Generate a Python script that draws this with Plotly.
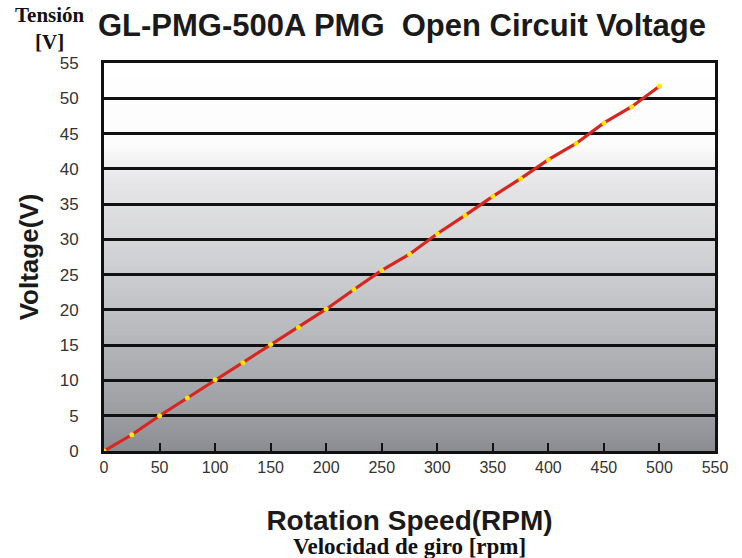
import base64
import struct
import zlib

import plotly.graph_objects as go

# ---------------- data ----------------
rpm = [0, 25, 50, 75, 100, 125, 150, 175, 200, 225, 250, 275, 300, 325, 350,
       375, 400, 425, 450, 475, 500]
voltage = [0, 2.3, 5.0, 7.5, 10.1, 12.5, 15.1, 17.5, 20.1, 22.9, 25.6, 27.9,
           30.8, 33.4, 36.1, 38.6, 41.3, 43.6, 46.5, 48.8, 51.7]
x_ticks = [0, 50, 100, 150, 200, 250, 300, 350, 400, 450, 500, 550]
y_ticks = [0, 5, 10, 15, 20, 25, 30, 35, 40, 45, 50, 55]

title_text = "GL-PMG-500A PMG  Open Circuit Voltage"
y_title = "Voltage(V)"
x_title = "Rotation Speed(RPM)"
x_subtitle = "Velocidad de giro [rpm]"
y_subtitle = "Tensión<br>[V]"

# ---------------- background gradient (style) ----------------
stops = [(0.0, (140, 141, 146)), (0.06, (152, 153, 158)), (0.42, (200, 201, 204)),
         (0.69, (230, 230, 232)), (0.79, (252, 252, 252)), (1.0, (255, 255, 255))]


def color_at(f):
    for (f0, c0), (f1, c1) in zip(stops[:-1], stops[1:]):
        if f0 <= f <= f1:
            t = (f - f0) / (f1 - f0) if f1 > f0 else 0
            return tuple(int(round(a + (b - a) * t)) for a, b in zip(c0, c1))
    return stops[-1][1]


H = 256
rows = b""
for i in range(H):
    f = 1 - i / (H - 1)
    r, g, b = color_at(f)
    rows += b"\x00" + bytes([r, g, b])


def chunk(tag, data):
    c = struct.pack(">I", len(data)) + tag + data
    return c + struct.pack(">I", zlib.crc32(tag + data) & 0xffffffff)


png = b"\x89PNG\r\n\x1a\n" + chunk(b"IHDR", struct.pack(">IIBBBBB", 1, H, 8, 2, 0, 0, 0)) \
    + chunk(b"IDAT", zlib.compress(rows)) + chunk(b"IEND", b"")
bg_uri = "data:image/png;base64," + base64.b64encode(png).decode()

sans = "Liberation Sans, Arial, sans-serif"
serif = "Liberation Serif, Times New Roman, DejaVu Serif, serif"

fig = go.Figure()
fig.add_trace(go.Scatter(
    x=rpm, y=voltage, mode="lines+markers",
    line=dict(color="#d8261e", width=3.2),
    marker=dict(color="#ffe600", size=5, line=dict(width=0)),
    showlegend=False, hoverinfo="x+y",
))

fig.add_layout_image(dict(
    source=bg_uri, xref="x domain", yref="y domain", x=0, y=1,
    sizex=1, sizey=1, sizing="stretch", layer="below", xanchor="left", yanchor="top",
))

fig.update_layout(
    width=742, height=558,
    margin=dict(l=104, r=27, t=63, b=107),
    paper_bgcolor="white", plot_bgcolor="rgba(0,0,0,0)",
    title=dict(text=title_text, xref="container", yref="container",
               x=98 / 742, xanchor="left", y=1 - 25 / 558, yanchor="middle",
               font=dict(family=sans, size=31, color="#1a1a1a", weight="bold")),
    xaxis=dict(range=[0, 550], tickvals=x_ticks, ticktext=[str(v) for v in x_ticks],
               automargin=False,
               showgrid=False, zeroline=False, showline=True, mirror=True,
               linecolor="#111", linewidth=3, ticks="inside", ticklen=8, tickwidth=2,
               tickcolor="#111", tickfont=dict(family=sans, size=16, color="#333"),
               title=dict(text=x_title, standoff=36,
                          font=dict(family=sans, size=28, color="#1a1a1a", weight="bold"))),
    yaxis=dict(range=[0, 55], tickvals=y_ticks, ticktext=[str(v) for v in y_ticks],
               automargin=False,
               showgrid=True, gridcolor="#111", gridwidth=3, zeroline=False,
               showline=True, mirror=True, linecolor="#111", linewidth=3,
               ticks="", ticklabelstandoff=19,
               tickfont=dict(family=sans, size=17, color="#333"),
               title=dict(text=y_title, standoff=14,
                          font=dict(family=sans, size=26, color="#1a1a1a", weight="bold"))),
    annotations=[
        dict(text=x_subtitle, xref="paper", yref="paper", x=0.5, y=-0.245,
             xanchor="center", yanchor="middle", showarrow=False,
             font=dict(family=serif, size=23, color="#111", weight="bold")),
        dict(text=y_subtitle, xref="paper", yref="paper", x=-0.088, y=1.09,
             xanchor="center", yanchor="middle", showarrow=False,
             font=dict(family=serif, size=21, color="#111", weight="bold")),
    ],
)

fig.write_html("out.html", config={"displayModeBar": False},
               post_script="document.body.style.margin='0';document.body.style.overflow='hidden';")
